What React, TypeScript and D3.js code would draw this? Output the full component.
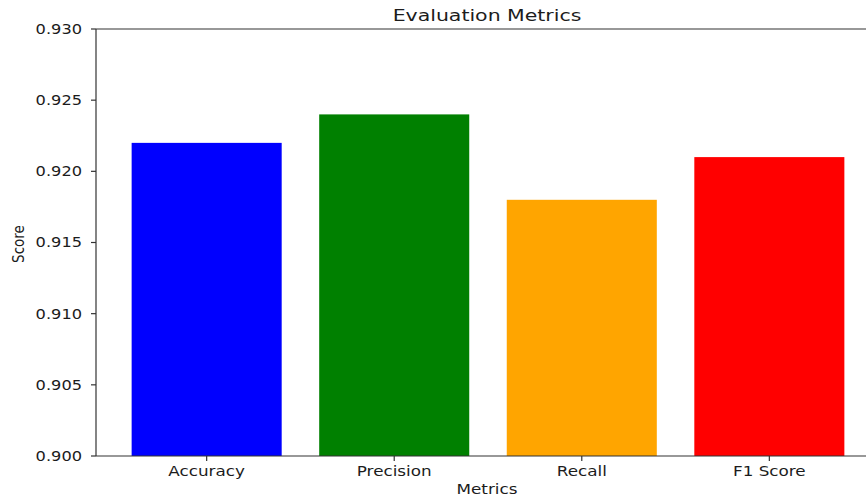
import * as d3 from 'd3';

const metrics = ['Accuracy', 'Precision', 'Recall', 'F1 Score'];
const scores = [0.922, 0.924, 0.918, 0.921];
const barColors = ['#0000ff', '#008000', '#ffa500', '#ff0000'];
const yTicks = [0.9, 0.905, 0.91, 0.915, 0.92, 0.925, 0.93];

const W = 866;
const H = 497;
const left = 96;
const right = 880; // axes runs past the picture edge
const top = 29;
const bottom = 456;
const font = 'DejaVu Sans, sans-serif';
const ink = '#1c1c1c';
const sx = 1.2; // text in the picture is stretched sideways

const App = () => {
  const barWidth = 0.8;
  const pad = (metrics.length - 1 + barWidth) * 0.05;
  const x = d3
    .scaleLinear()
    .domain([-barWidth / 2 - pad, metrics.length - 1 + barWidth / 2 + pad])
    .range([left, right]);
  const y = d3.scaleLinear().domain([0.9, 0.93]).range([bottom, top]);
  const fmt = d3.format('.3f');

  return (
    <svg
      width={W}
      height={H}
      style={{ position: 'absolute', left: 0, top: 0, background: '#fff' }}
      fontFamily={font}
    >
      {/* bars */}
      {metrics.map((m, i) => (
        <rect
          key={m}
          x={x(i - barWidth / 2)}
          y={y(scores[i])}
          width={x(i + barWidth / 2) - x(i - barWidth / 2)}
          height={y(0.9) - y(scores[i])}
          fill={barColors[i]}
        />
      ))}

      {/* spines */}
      <line x1={left} x2={right} y1={top} y2={top} stroke="#333" strokeWidth={1.2} />
      <line x1={left} x2={right} y1={bottom} y2={bottom} stroke="#333" strokeWidth={1.2} />
      <line x1={left} x2={left} y1={top} y2={bottom} stroke="#333" strokeWidth={1.2} />

      {/* y ticks */}
      {yTicks.map((t) => (
        <g key={t}>
          <line x1={left - 5} x2={left} y1={y(t)} y2={y(t)} stroke="#333" strokeWidth={1.2} />
          <text
            transform={`translate(${left - 14},${y(t)}) scale(${sx},1)`}
            textAnchor="end"
            dy="0.36em"
            fontSize={13.5}
            fill={ink}
          >
            {fmt(t)}
          </text>
        </g>
      ))}

      {/* x ticks */}
      {metrics.map((m, i) => (
        <g key={m}>
          <line x1={x(i)} x2={x(i)} y1={bottom} y2={bottom + 5} stroke="#333" strokeWidth={1.2} />
          <text
            transform={`translate(${x(i)},${bottom + 20}) scale(${sx},1)`}
            textAnchor="middle"
            fontSize={14}
            fill={ink}
          >
            {m}
          </text>
        </g>
      ))}

      {/* labels */}
      <text
        transform={`translate(487,21) scale(1.28,1)`}
        textAnchor="middle"
        fontSize={16}
        fill={ink}
      >
        Evaluation Metrics
      </text>
      <text
        transform={`translate(487,494) scale(${sx},1)`}
        textAnchor="middle"
        fontSize={14}
        fill={ink}
      >
        Metrics
      </text>
      <text
        transform={`translate(24,244) rotate(-90) scale(1,${sx})`}
        textAnchor="middle"
        fontSize={13.5}
        fill={ink}
      >
        Score
      </text>
    </svg>
  );
};

export default App;
